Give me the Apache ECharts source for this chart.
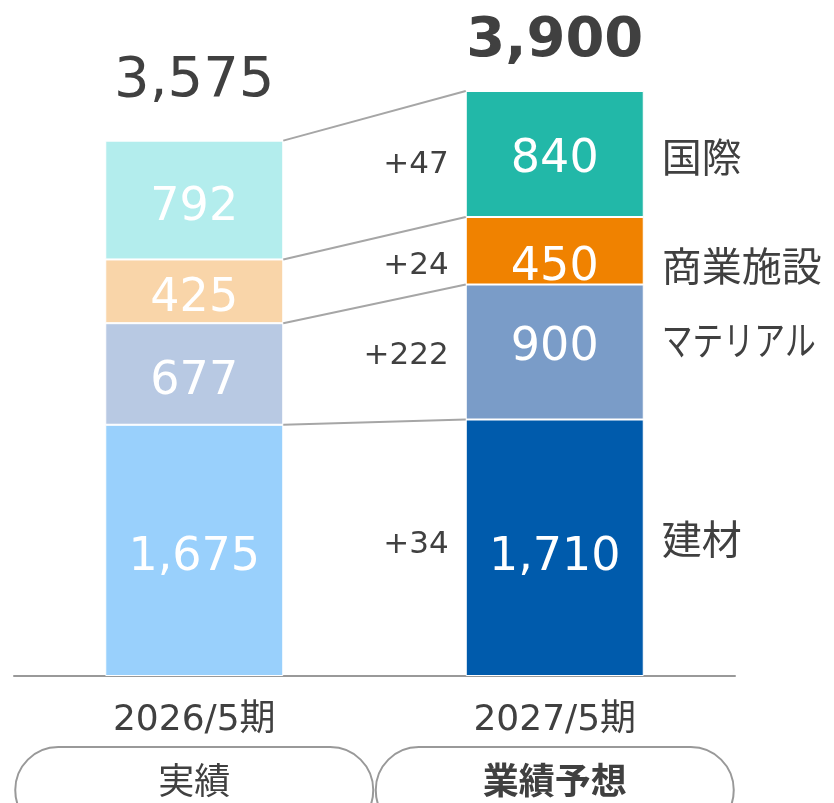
<!DOCTYPE html>
<html>
<head>
<meta charset="utf-8">
<script src="https://cdn.jsdelivr.net/npm/echarts@6/dist/echarts.min.js"></script>
<style>
  html, body { margin: 0; padding: 0; background: #fff; }
  #main { width: 834px; height: 803px; }
</style>
</head>
<body>
<div id="main"></div>
<script>
// 期・区分
const periods = ['2026/5期', '2027/5期'];
const tags = ['実績', '業績予想'];

// セグメント（下から積み上げ）
const segments = ['建材', 'マテリアル', '商業施設', '国際'];
const actual = [1675, 677, 425, 792];
const forecast = [1710, 900, 450, 840];
const change = [34, 222, 24, 47];
const totals = [3575, 3900];

// 色
const actualColors = ['#99d0fc', '#b8c9e3', '#f9d5a9', '#b3eded'];
const forecastColors = ['#005bac', '#7a9cc8', '#f08200', '#22b8a8'];

const bw = 178;
const textColor = '#404040';
const latin = '"DejaVu Sans", "Noto Sans CJK JP", sans-serif';
const cjk = '"Noto Sans CJK JP", sans-serif';

// ラベル微調整（px）
const diffNudge = [-3, 4, 15, 11];
const nameNudge = [-9, -12, 15, 3];
const nameScale = [1, 0.77, 1, 1];
const forecastLabelNudge = [10, -4, 17, 6];
const totalNudge = [-59, -50];

const fmt = (v) => v.toLocaleString('en-US');
const cum = (arr, i) => arr.slice(0, i + 1).reduce((a, b) => a + b, 0);

const barSeries = segments.map((name, i) => ({
  name: name,
  type: 'bar',
  stack: 'total',
  barWidth: bw,
  data: [
    { value: actual[i], itemStyle: { color: actualColors[i] } },
    { value: forecast[i], itemStyle: { color: forecastColors[i] }, label: { offset: [0, forecastLabelNudge[i]] } }
  ],
  itemStyle: { borderColor: '#fff', borderWidth: 1 },
  label: {
    show: true,
    position: 'inside',
    offset: [0, 8],
    color: '#fff',
    fontSize: 46,
    fontFamily: latin,
    formatter: (p) => fmt(p.value)
  }
}));

// 連結線・増減・セグメント名
const annoSeries = {
  type: 'custom',
  z: 3,
  data: segments.map((s, i) => [1, cum(forecast, i)]),
  renderItem: (params, api) => {
    const i = params.dataIndex;
    const pL = api.coord([0, cum(actual, i)]);
    const pR = api.coord([1, cum(forecast, i)]);
    const mid = api.coord([1, cum(forecast, i) - forecast[i] / 2]);
    return {
      type: 'group',
      children: [
        {
          type: 'line',
          shape: { x1: pL[0] + bw / 2, y1: pL[1], x2: pR[0] - bw / 2, y2: pR[1] },
          style: { stroke: '#a6a6a6', lineWidth: 2 }
        },
        {
          type: 'text',
          x: mid[0] - bw / 2 - 17,
          y: mid[1] + diffNudge[i],
          style: {
            text: '+' + change[i],
            fill: textColor,
            fontSize: 31,
            fontFamily: latin,
            align: 'right',
            verticalAlign: 'middle'
          }
        },
        {
          type: 'text',
          x: mid[0] + bw / 2 + 18,
          y: mid[1] + nameNudge[i],
          scaleX: nameScale[i],
          style: {
            text: segments[i],
            fill: textColor,
            fontSize: 40,
            fontFamily: cjk,
            align: 'left',
            verticalAlign: 'middle'
          }
        }
      ]
    };
  }
};

// 合計
const totalSeries = {
  type: 'custom',
  z: 3,
  data: totals.map((t, j) => [j, j === 0 ? cum(actual, 3) : cum(forecast, 3)]),
  renderItem: (params, api) => {
    const j = params.dataIndex;
    const p = api.coord([api.value(0), api.value(1)]);
    return {
      type: 'text',
      x: p[0],
      y: p[1] + totalNudge[j],
      style: {
        text: fmt(totals[j]),
        fill: textColor,
        fontSize: 56,
        fontWeight: j === 1 ? 'bold' : 'normal',
        fontFamily: latin,
        align: 'center',
        verticalAlign: 'middle'
      }
    };
  }
};

const pill = {
  width: 358,
  height: 66,
  padding: [0, 0, 20, 0],
  borderRadius: 43,
  borderColor: '#999',
  borderWidth: 2,
  align: 'center',
  fontSize: 36,
  color: textColor,
  fontFamily: cjk
};

const chart = echarts.init(document.getElementById('main'));
chart.setOption({
  animation: false,
  grid: { left: 14, right: 99, top: 76, bottom: 127, outerBoundsMode: 'none', containLabel: false },
  xAxis: [
    {
      type: 'category',
      data: periods,
      axisLine: { lineStyle: { color: '#999', width: 2 } },
      axisTick: { show: false },
      axisLabel: { margin: 27, fontSize: 36, color: textColor, fontFamily: latin }
    },
    {
      type: 'category',
      data: tags,
      position: 'bottom',
      axisLine: { show: false },
      axisTick: { show: false },
      axisLabel: {
        margin: 71,
        formatter: (v, idx) => (idx === 0 ? '{a|' + v + '}' : '{b|' + v + '}'),
        rich: {
          a: pill,
          b: Object.assign({}, pill, { fontWeight: 'bold' })
        }
      }
    }
  ],
  yAxis: { type: 'value', min: 0, max: 4000, show: false },
  series: barSeries.concat([annoSeries, totalSeries])
});
</script>
</body>
</html>
